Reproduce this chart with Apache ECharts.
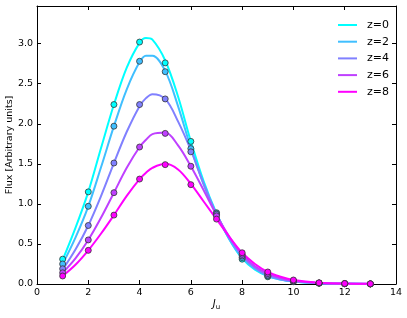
<!DOCTYPE html>
<html><head><meta charset="utf-8">
<script src="https://cdn.jsdelivr.net/npm/echarts@6/dist/echarts.min.js"></script>
<style>html,body{margin:0;padding:0;background:#fff}#c{width:407px;height:318px}</style>
</head><body><div id="c"></div>
<script>
const names = ['z=0','z=2','z=4','z=6','z=8'];
const colors = ['#00FFFF','#40BFFF','#8080FF','#BF40FF','#FF00FF'];
const pointJ = [1,2,3,4,5,6,7,8,9,10,11,12,13];
const pts0 = [0.31,1.15,2.24,3.02,2.76,1.78,0.89,0.31,0.09,0.03,0.01,0.003,0.001];
const pts2 = [0.25,0.97,1.97,2.78,2.65,1.69,0.88,0.33,0.10,0.03,0.01,0.004,0.001];
const pts4 = [0.19,0.73,1.51,2.24,2.31,1.65,0.87,0.35,0.11,0.035,0.012,0.004,0.001];
const pts6 = [0.14,0.55,1.14,1.71,1.88,1.47,0.85,0.37,0.13,0.04,0.013,0.005,0.002];
const pts8 = [0.10,0.42,0.86,1.31,1.49,1.24,0.81,0.39,0.15,0.05,0.015,0.006,0.002];
const curveJ = [1,1.5,2,2.5,3,3.5,4,4.25,4.5,5,5.5,6,6.5,7,7.5,8,8.5,9,9.5,10,11,12,13];
const curve0 = [0.30,0.70,1.15,1.70,2.24,2.70,3.01,3.07,3.05,2.79,2.34,1.78,1.28,0.88,0.56,0.32,0.18,0.10,0.055,0.03,0.01,0.003,0.001];
const curve2 = [0.25,0.58,0.97,1.46,1.97,2.43,2.77,2.85,2.85,2.66,2.22,1.70,1.24,0.87,0.56,0.33,0.19,0.10,0.055,0.03,0.01,0.003,0.001];
const curve4 = [0.18,0.43,0.73,1.10,1.51,1.90,2.22,2.32,2.37,2.31,2.03,1.67,1.25,0.87,0.57,0.35,0.20,0.11,0.06,0.035,0.012,0.004,0.001];
const curve6 = [0.14,0.32,0.55,0.83,1.14,1.45,1.71,1.80,1.87,1.89,1.73,1.47,1.17,0.86,0.59,0.37,0.22,0.13,0.075,0.04,0.013,0.005,0.002];
const curve8 = [0.10,0.24,0.42,0.63,0.86,1.10,1.31,1.39,1.45,1.50,1.43,1.25,1.03,0.81,0.59,0.39,0.25,0.15,0.09,0.05,0.016,0.006,0.002];
const xTicks = [0,2,4,6,8,10,12,14];
const yTicks = [0.0,0.5,1.0,1.5,2.0,2.5,3.0];

const pts = [pts0,pts2,pts4,pts6,pts8];
const curves = [curve0,curve2,curve4,curve6,curve8];
const F = 'DejaVu Sans';
const series = [];
names.forEach((n,i)=>{
  series.push({name:n,type:'line',smooth:0.35,showSymbol:false,z:2,
    data:curveJ.map((x,k)=>[x,curves[i][k]]),
    lineStyle:{color:colors[i],width:2},itemStyle:{color:colors[i]}});
});
names.forEach((n,i)=>{
  series.push({name:n+' pts',type:'scatter',symbol:'circle',symbolSize:6,z:5,
    data:pointJ.map((x,k)=>[x,pts[i][k]]),
    itemStyle:{color:colors[i],borderColor:'#333',borderWidth:0.8,opacity:1}});
});
const ax = () => ({axisLine:{show:true,onZero:false,lineStyle:{color:'#000',width:1}},
  axisTick:{show:true,inside:true,length:4,lineStyle:{color:'#000'}},splitLine:{show:false}});
const chart = echarts.init(document.getElementById('c'),null,{renderer:'canvas'});
chart.setOption({
  animation:false,
  grid:{left:37,right:11,top:6,bottom:34,containLabel:false,outerBoundsMode:'none'},
  legend:{data:names,orient:'vertical',left:333,top:14,icon:'rect',itemWidth:19,itemHeight:2,itemGap:4.7,
    textStyle:{fontFamily:F,fontSize:11,color:'#000',lineHeight:12,padding:[0,0,0,5]}},
  xAxis:[
    Object.assign(ax(),{type:'value',min:xTicks[0],max:xTicks[xTicks.length-1],interval:2,position:'bottom',
      name:'{i|J}{s|u}',nameLocation:'middle',nameGap:14,nameMoveOverlap:false,
      nameTextStyle:{rich:{i:{fontFamily:F,fontStyle:'italic',fontSize:10,color:'#000'},s:{fontFamily:F,fontSize:7,color:'#000',verticalAlign:'bottom',padding:[6,0,0,0]}}},
      axisLabel:{fontFamily:F,fontSize:9.5,color:'#000',margin:4}}),
    Object.assign(ax(),{type:'value',min:0,max:14,interval:2,position:'top',axisLabel:{show:false}})
  ],
  yAxis:[
    Object.assign(ax(),{type:'value',min:0,max:3.47,interval:0.5,position:'left',
      name:'Flux [Arbitrary units]',nameLocation:'middle',nameGap:22,nameMoveOverlap:false,
      nameTextStyle:{fontFamily:F,fontSize:9.5,color:'#000'},
      axisLabel:{fontFamily:F,fontSize:9.5,color:'#000',margin:4,
        formatter:v=>{const t=yTicks.find(y=>Math.abs(y-v)<1e-6);return t===undefined?'':t.toFixed(1);}}}),
    Object.assign(ax(),{type:'value',min:0,max:3.47,interval:0.5,position:'right',axisLabel:{show:false}})
  ],
  series:series
});
</script></body></html>
